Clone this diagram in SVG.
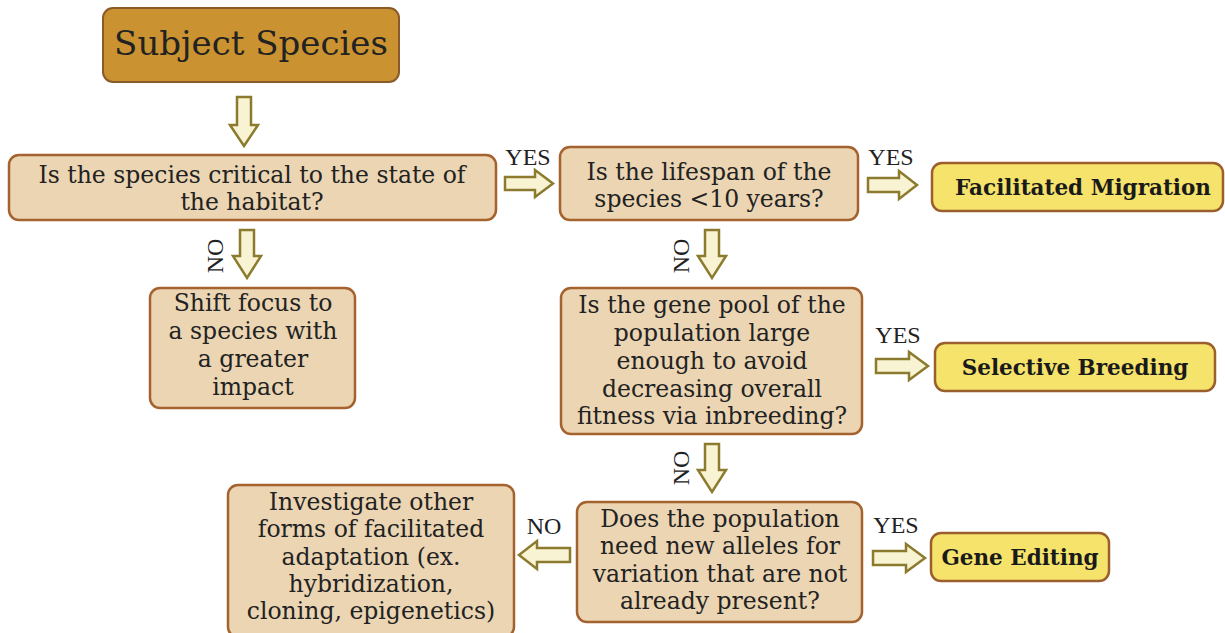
<svg xmlns="http://www.w3.org/2000/svg" width="1225" height="633" viewBox="0 0 1225 633">
<style>
.bg{fill:#ffffff}
.box{fill:#EBD5B3;stroke:#A4622F;stroke-width:2.5}
.subj{fill:#CA9230;stroke:#8A5A2A;stroke-width:2}
.res{fill:#F5E36C;stroke:#9A5F2C;stroke-width:2.5}
.arr{fill:#F8F3D3;stroke:#8C7B2E;stroke-width:2.5;stroke-linejoin:miter}
.t{font-family:"DejaVu Serif","Liberation Serif",serif;font-size:23.5px;fill:#222;text-anchor:middle}
.tb{font-family:"DejaVu Serif","Liberation Serif",serif;font-size:21.5px;font-weight:bold;fill:#1a1a1a;text-anchor:middle}
.lab{font-family:"Liberation Serif",serif;font-size:24px;fill:#222;text-anchor:middle}
</style>
<rect class="bg" x="0" y="0" width="1225" height="633"/>
<g id="connectors">
<path class="arr" d="M237,97 H251 V125 H258 L244,146 L230,125 H237 Z"/>
<path class="arr" d="M240,230 H254 V256 H261 L247,278 L233,256 H240 Z"/>
<path class="arr" d="M705,230 H719 V256 H726 L712,278 L698,256 H705 Z"/>
<path class="arr" d="M705,444 H719 V470 H726 L712,492 L698,470 H705 Z"/>
<path class="arr" d="M505,177 H535 V170 L553,183.5 L535,197 V190 H505 Z"/>
<path class="arr" d="M868,178 H899 V171 L917,185 L899,199 V192 H868 Z"/>
<path class="arr" d="M876,359 H909 V352 L928,366 L909,380 V373 H876 Z"/>
<path class="arr" d="M873,551 H906 V544 L925,558 L906,572 V565 H873 Z"/>
<path class="arr" d="M570,548 H537 V541 L519,555 L537,569 V562 H570 Z"/>
<text class="lab" x="528" y="165">YES</text>
<text class="lab" x="891" y="165">YES</text>
<text class="lab" x="898" y="343">YES</text>
<text class="lab" x="896" y="533">YES</text>
<text class="lab" x="544" y="534">NO</text>
<text class="lab" transform="translate(223,256) rotate(-90)">NO</text>
<text class="lab" transform="translate(689,256) rotate(-90)">NO</text>
<text class="lab" transform="translate(689,468) rotate(-90)">NO</text>
</g>
<g id="subject">
<rect class="subj" x="103" y="8" width="296" height="74" rx="10"/>
<text class="t" x="251" y="55" style="font-size:34px">Subject Species</text>
</g>
<g id="q1">
<rect class="box" x="9" y="155" width="487" height="65" rx="10"/>
<text class="t" x="252" y="183">Is the species critical to the state of</text>
<text class="t" x="252" y="210">the habitat?</text>
</g>
<g id="q2">
<rect class="box" x="560" y="147" width="298" height="73" rx="10"/>
<text class="t" x="709" y="180">Is the lifespan of the</text>
<text class="t" x="709" y="207">species &lt;10 years?</text>
</g>
<g id="migration">
<rect class="res" x="932" y="163" width="291" height="48" rx="10"/>
<text class="tb" x="1083" y="195">Facilitated Migration</text>
</g>
<g id="shift">
<rect class="box" x="150" y="288" width="205" height="120" rx="10"/>
<text class="t" x="253" y="311">Shift focus to</text>
<text class="t" x="253" y="339">a species with</text>
<text class="t" x="253" y="367">a greater</text>
<text class="t" x="253" y="395">impact</text>
</g>
<g id="q3">
<rect class="box" x="561" y="288" width="301" height="146" rx="10"/>
<text class="t" x="712" y="313">Is the gene pool of the</text>
<text class="t" x="712" y="341">population large</text>
<text class="t" x="712" y="369">enough to avoid</text>
<text class="t" x="712" y="397">decreasing overall</text>
<text class="t" x="712" y="424">fitness via inbreeding?</text>
</g>
<g id="breeding">
<rect class="res" x="935" y="343" width="280" height="48" rx="10"/>
<text class="tb" x="1075" y="375">Selective Breeding</text>
</g>
<g id="q4">
<rect class="box" x="577" y="502" width="285" height="120" rx="10"/>
<text class="t" x="720" y="527">Does the population</text>
<text class="t" x="720" y="554">need new alleles for</text>
<text class="t" x="720" y="582">variation that are not</text>
<text class="t" x="720" y="609">already present?</text>
</g>
<g id="gene">
<rect class="res" x="931" y="533" width="178" height="48" rx="10"/>
<text class="tb" x="1020" y="565">Gene Editing</text>
</g>
<g id="investigate">
<rect class="box" x="228" y="485" width="286" height="152" rx="10"/>
<text class="t" x="371" y="510">Investigate other</text>
<text class="t" x="371" y="537">forms of facilitated</text>
<text class="t" x="371" y="565">adaptation (ex.</text>
<text class="t" x="371" y="592">hybridization,</text>
<text class="t" x="371" y="619">cloning, epigenetics)</text>
</g>
</svg>
